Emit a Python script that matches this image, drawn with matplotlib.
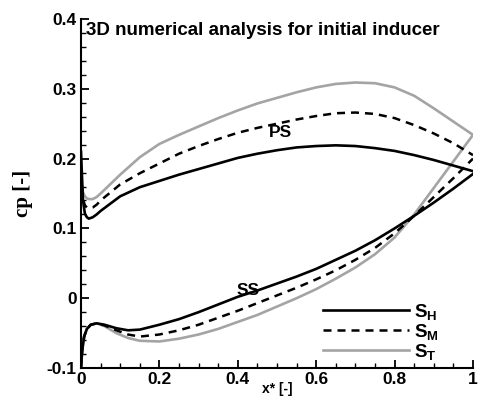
import matplotlib
matplotlib.use("Agg")
import matplotlib.pyplot as plt
from matplotlib.ticker import MultipleLocator

# pressure side (PS) curves
ps_x = [0.0, 0.005, 0.01, 0.015, 0.02, 0.03, 0.04, 0.05, 0.1, 0.15, 0.2, 0.25, 0.3, 0.35, 0.4, 0.45,
        0.5, 0.55, 0.6, 0.65, 0.7, 0.75, 0.8, 0.85, 0.9, 0.95, 1.0]
ps_y_h = [0.21, 0.14, 0.121, 0.116, 0.114, 0.116, 0.12, 0.125, 0.146, 0.159, 0.168, 0.177, 0.185, 0.193, 0.201, 0.207,
          0.212, 0.216, 0.218, 0.219, 0.218, 0.215, 0.211, 0.205, 0.198, 0.19, 0.182]
ps_y_m = [0.18, 0.142, 0.133, 0.13, 0.129, 0.13, 0.134, 0.14, 0.163, 0.179, 0.193, 0.207, 0.218, 0.228, 0.237, 0.244,
          0.25, 0.256, 0.261, 0.265, 0.266, 0.264, 0.258, 0.248, 0.236, 0.222, 0.205]
ps_y_t = [0.17, 0.152, 0.146, 0.143, 0.142, 0.142, 0.145, 0.15, 0.177, 0.202, 0.221, 0.234, 0.246, 0.258, 0.269, 0.279,
          0.287, 0.295, 0.302, 0.307, 0.309, 0.308, 0.302, 0.29, 0.272, 0.253, 0.234]

# suction side (SS) curves
ss_x = [0.0, 0.003, 0.008, 0.015, 0.025, 0.04, 0.06, 0.09, 0.12, 0.15, 0.2, 0.25, 0.3, 0.35,
        0.4, 0.45, 0.5, 0.55, 0.6, 0.65, 0.7, 0.75, 0.8, 0.85, 0.9, 0.95, 1.0]
ss_y_h = [-0.1, -0.075, -0.055, -0.044, -0.038, -0.036, -0.038, -0.043, -0.046, -0.045, -0.038, -0.03, -0.02, -0.009,
          0.002, 0.011, 0.021, 0.031, 0.042, 0.055, 0.068, 0.083, 0.1, 0.118, 0.137, 0.157, 0.178]
ss_y_m = [-0.1, -0.075, -0.055, -0.044, -0.038, -0.036, -0.039, -0.046, -0.052, -0.055, -0.052, -0.046, -0.038, -0.028,
          -0.018, -0.007, 0.004, 0.015, 0.027, 0.04, 0.055, 0.072, 0.093, 0.118, 0.145, 0.172, 0.2]
ss_y_t = [-0.1, -0.075, -0.055, -0.044, -0.038, -0.036, -0.04, -0.05, -0.057, -0.061, -0.062, -0.058, -0.052, -0.044,
          -0.034, -0.024, -0.012, 0.0, 0.013, 0.028, 0.044, 0.063, 0.087, 0.12, 0.158, 0.196, 0.234]

series_labels = ["$\\mathbf{S_H}$", "$\\mathbf{S_M}$", "$\\mathbf{S_T}$"]

plt.rcParams["font.family"] = ["Liberation Sans", "DejaVu Sans"]
plt.rcParams["font.weight"] = "bold"
plt.rcParams["mathtext.fontset"] = "custom"
plt.rcParams["mathtext.rm"] = "Liberation Sans"
plt.rcParams["mathtext.bf"] = "Liberation Sans:bold"

fig = plt.figure(figsize=(4.79, 4.03), dpi=100)
ax = fig.add_axes([81 / 479, 35 / 403, 392 / 479, 349 / 403])

gray = "#a4a4a4"
sty_h = dict(color="black", lw=1.9, linestyle="-")
sty_m = dict(color="black", lw=1.8, linestyle=(0, (3.2, 2.4)))
sty_t = dict(color=gray, lw=1.9, linestyle="-")

ax.plot(ps_x, ps_y_t, **sty_t)
ax.plot(ss_x, ss_y_t, **sty_t)
ax.plot(ps_x, ps_y_m, **sty_m)
ax.plot(ss_x, ss_y_m, **sty_m)
ax.plot(ps_x, ps_y_h, **sty_h)
ax.plot(ss_x, ss_y_h, **sty_h)

# legend handles
h1, = ax.plot([], [], **sty_h)
h2, = ax.plot([], [], **sty_m)
h3, = ax.plot([], [], **sty_t)
ax.legend([h1, h2, h3], series_labels, loc="upper left", bbox_to_anchor=(0.617, 0.19),
          frameon=False, borderpad=0, borderaxespad=0, handlelength=4.6, handletextpad=0.25,
          labelspacing=0.0, fontsize=13.5)

ax.text(0.51, 0.237, "PS", fontsize=12.5, fontweight="bold", ha="center", va="center")
ax.text(0.426, 0.011, "SS", fontsize=12.5, fontweight="bold", ha="center", va="center")
ax.text(0.012, 0.384, "3D numerical analysis for initial inducer", fontsize=13.5,
        fontweight="bold", ha="left", va="center")

ax.set_xlim(0, 1)
ax.set_ylim(-0.1, 0.4)
ax.xaxis.set_minor_locator(MultipleLocator(0.05))
ax.yaxis.set_minor_locator(MultipleLocator(0.02))
ax.set_xticks([0, 0.2, 0.4, 0.6, 0.8, 1.0])
ax.set_xticklabels(["0", "0.2", "0.4", "0.6", "0.8", "1"])
ax.set_yticks([-0.1, 0, 0.1, 0.2, 0.3, 0.4])
ax.set_yticklabels(["-0.1", "0", "0.1", "0.2", "0.3", "0.4"])

for side in ["top", "right"]:
    ax.spines[side].set_visible(False)
for side in ["left", "bottom"]:
    ax.spines[side].set_linewidth(1.5)
ax.tick_params(which="major", direction="in", length=6, width=1.3, labelsize=12.5, pad=3)
ax.tick_params(which="minor", direction="in", length=3.5, width=1.0)

ax.set_xlabel("x* [-]", fontsize=10, fontweight="bold", labelpad=-4)
ax.set_ylabel("cp [-]", fontsize=15, fontweight="bold", family="Liberation Serif", labelpad=10)

fig.savefig("out.png", dpi=100)
